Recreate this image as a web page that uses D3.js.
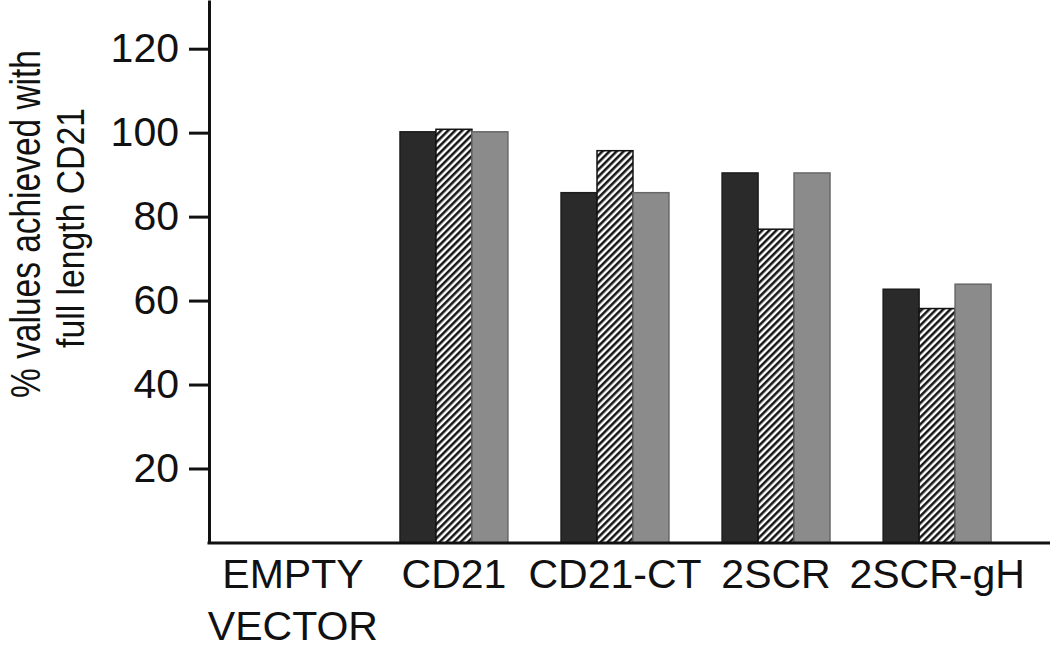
<!DOCTYPE html>
<html lang="en">
<head>
	<meta charset="UTF-8">
	<script src="https://cdn.jsdelivr.net/npm/d3@7"></script>
	<title>CD21 bar chart</title>
	<style>
		body { margin: 0; background: #fff; }
		svg { display: block; font-family: "Liberation Sans", Arial, sans-serif; }
		.axis path, .axis line { stroke: #111; stroke-width: 3; }
		.axis text { fill: #111; font-size: 41px; }
	</style>
</head>
<body>
	<svg id="chart" width="1050" height="654"></svg>
	<script>
		// data
		const categories = [['EMPTY', 'VECTOR'], ['CD21'], ['CD21-CT'], ['2SCR'], ['2SCR-gH']];
		const seriesA = [null, 100.2, 85.7, 90.4, 62.7];   // solid dark
		const seriesB = [null, 100.8, 95.7, 77.0, 58.1];   // hatched
		const seriesC = [null, 100.2, 85.7, 90.4, 63.9];   // grey
		const yTicks = [20, 40, 60, 80, 100, 120];
		const yExtent = [2.25, 131.6];

		const width = 1050, height = 654;
		const plot = { left: 209, right: 1021, top: 0, bottom: 543 };
		const svg = d3.select('#chart');

		// hatch pattern for the middle series
		const defs = svg.append('defs');
		const pat = defs.append('pattern')
			.attr('id', 'hatch')
			.attr('patternUnits', 'userSpaceOnUse')
			.attr('width', 5).attr('height', 5)
			.attr('patternTransform', 'rotate(45)');
		pat.append('rect').attr('width', 5).attr('height', 5).attr('fill', '#fff');
		pat.append('line').attr('x1', 1.3).attr('y1', 0).attr('x2', 1.3).attr('y2', 5)
			.attr('stroke', '#111').attr('stroke-width', 2.5);

		const groupKeys = categories.map(c => c.join(' '));
		const x = d3.scaleBand()
			.domain(groupKeys)
			.range([plot.left, plot.right])
			.paddingInner(0.33)
			.paddingOuter(0.186);
		const xs = d3.scaleBand().domain([0, 1, 2]).range([0, x.bandwidth()]);
		const y = d3.scaleLinear().domain(yExtent).range([plot.bottom, plot.top]);

		const series = [
			{ values: seriesA, fill: '#2a2a2a', stroke: '#1c1c1c' },
			{ values: seriesB, fill: 'url(#hatch)', stroke: '#111' },
			{ values: seriesC, fill: '#8b8b8b', stroke: '#686868' }
		];

		// bars
		const groups = svg.append('g').selectAll('g')
			.data(groupKeys)
			.join('g')
			.attr('transform', d => `translate(${x(d)},0)`);
		groups.selectAll('rect')
			.data((d, i) => series.map((s, j) => ({ j, v: s.values[i], s })).filter(o => o.v != null))
			.join('rect')
			.attr('x', d => xs(d.j))
			.attr('width', xs.bandwidth())
			.attr('y', d => y(d.v))
			.attr('height', d => y(yExtent[0]) - y(d.v))
			.attr('fill', d => d.s.fill)
			.attr('stroke', d => d.s.stroke)
			.attr('stroke-width', 1.5);

		// y axis
		svg.append('g')
			.attr('class', 'axis')
			.attr('transform', `translate(${plot.left},0)`)
			.call(d3.axisLeft(y).tickValues(yTicks).tickSize(20).tickSizeOuter(0).tickPadding(10));

		// x axis
		const xAxis = svg.append('g')
			.attr('class', 'axis')
			.attr('transform', `translate(0,${plot.bottom})`)
			.call(d3.axisBottom(x).tickSize(0).tickSizeOuter(0));
		xAxis.select('.domain').attr('d', `M${plot.left - 1.5},0H${width}`);
		xAxis.selectAll('.tick text')
			.attr('y', 45).attr('dy', null)
			.text(null)
			.each(function (d, i) {
				const t = d3.select(this);
				categories[i].forEach((line, k) => {
					t.append('tspan').attr('x', 0).attr('dy', k === 0 ? 0 : 52).text(line);
				});
			});

		// y title, two condensed lines (squeezed along the reading direction)
		const titleLines = [
			{ text: '% values achieved with', size: 43, cx: 40, cy: 224, len: 348 },
			{ text: 'full length CD21', size: 38, cx: 84, cy: 228, len: 240 }
		];
		titleLines.forEach(l => {
			const t = svg.append('text')
				.attr('fill', '#111')
				.attr('text-anchor', 'middle')
				.style('font-size', l.size + 'px')
				.text(l.text);
			const k = l.len / t.node().getComputedTextLength();
			t.attr('transform', `translate(${l.cx},${l.cy}) rotate(-90) scale(${k},1)`);
		});
	</script>
</body>
</html>
